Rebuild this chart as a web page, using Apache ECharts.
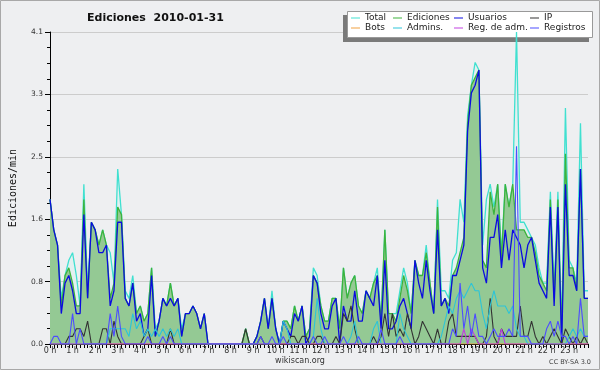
<!DOCTYPE html>
<html><head><meta charset="utf-8">
<script src="https://cdn.jsdelivr.net/npm/echarts@6/dist/echarts.min.js"></script>
<style>html,body{margin:0;padding:0;background:#eeeff1}#c{width:600px;height:370px}</style>
</head><body><div id="c"></div>
<script>
// hour tick labels
const hourLabels = ['0 h','1 h','2 h','3 h','4 h','5 h','6 h','7 h','8 h','9 h','10 h','11 h','12 h','13 h','14 h','15 h','16 h','17 h','18 h','19 h','20 h','21 h','22 h','23 h'];
// categories: 10-minute bins
const categories = [];
for (let h = 0; h < 24; h++) for (let m = 0; m < 60; m += 10) categories.push(h + ':' + (m < 10 ? '0' : '') + m);
const seriesNames = ['Total','Ediciones','Usuarios','IP','Bots','Admins.','Reg. de adm.','Registros'];

const total = [
1.9,1.5,1.3,0.6,0.9,1.1, 1.2,0.9,0.5,2.1,0.7,1.6, 1.5,1.3,1.5,1.3,1.2,0.8, 2.3,1.7,0.7,0.6,0.9,0.4,
0.5,0.3,0.4,1.0,0.2,0.3, 0.6,0.5,0.8,0.5,0.6,0.2, 0.4,0.4,0.5,0.4,0.2,0.4, 0,0,0,0,0,0,
0,0,0,0,0.2,0, 0,0.1,0.3,0.6,0.2,0.7, 0.2,0,0.3,0.3,0.2,0.5, 0.3,0.5,0.1,0.2,1.0,0.9,
0.5,0.3,0.3,0.6,0.6,0.2, 1.0,0.6,0.8,0.9,0.5,0.4, 0.7,0.6,0.8,1.0,0.3,1.5, 0.4,0.4,0.4,0.7,1.0,0.8,
0.4,1.1,0.9,0.9,1.3,0.8, 0.4,1.9,0.7,0.7,0.6,1.1, 1.2,1.9,1.6,3.0,3.4,3.7, 3.6,1.3,1.9,2.1,1.8,2.1,
1.2,2.1,1.8,2.1,4.1,1.6, 1.6,1.5,1.4,1.3,1.0,0.8, 0.8,2.0,0.7,2.0,0.2,3.1, 1.1,1.0,0.8,2.9,0.7,0.7];
const ediciones = [
1.9,1.5,1.3,0.5,0.9,1.0, 0.8,0.5,0.5,1.9,0.6,1.6, 1.5,1.3,1.5,1.3,0.6,0.8, 1.8,1.7,0.6,0.5,0.8,0.4,
0.5,0.3,0.4,1.0,0.1,0.3, 0.6,0.5,0.8,0.5,0.6,0.1, 0.4,0.4,0.5,0.4,0.2,0.4, 0,0,0,0,0,0,
0,0,0,0,0.2,0, 0,0.1,0.3,0.6,0.2,0.6, 0.2,0,0.3,0.3,0.2,0.5, 0.3,0.5,0.1,0.2,0.9,0.8,
0.5,0.3,0.3,0.6,0.6,0.2, 1.0,0.6,0.8,0.9,0.5,0.4, 0.7,0.6,0.8,0.9,0.3,1.5, 0.4,0.4,0.3,0.6,0.9,0.7,
0.4,1.1,0.9,0.9,1.2,0.8, 0.4,1.8,0.5,0.6,0.5,0.9, 1.0,1.2,1.4,2.9,3.4,3.5, 3.6,1.1,1.0,2.0,1.7,2.1,
1.1,2.1,1.8,2.1,1.5,1.5, 1.5,1.4,1.4,1.2,0.9,0.8, 0.7,1.9,0.6,1.9,0.1,2.5, 1.0,1.0,0.7,2.3,0.6,0.6];
const usuarios = [
1.9,1.5,1.3,0.4,0.8,0.9, 0.7,0.4,0.4,1.7,0.6,1.6, 1.5,1.2,1.2,1.3,0.5,0.7, 1.6,1.6,0.6,0.5,0.8,0.3,
0.4,0.1,0.2,0.9,0.1,0.3, 0.6,0.5,0.6,0.5,0.6,0.1, 0.4,0.4,0.5,0.4,0.2,0.4, 0,0,0,0,0,0,
0,0,0,0,0,0, 0,0.1,0.3,0.6,0.2,0.6, 0.2,0,0.3,0.2,0.1,0.4, 0.3,0.5,0,0.1,0.9,0.8,
0.4,0.2,0.2,0.5,0.6,0, 0.5,0.3,0.3,0.7,0.3,0.3, 0.7,0.6,0.5,0.9,0.2,1.1, 0.2,0.2,0.3,0.5,0.6,0.4,
0.2,1.1,0.8,0.6,1.1,0.7, 0.4,1.5,0.5,0.6,0.4,0.9, 0.9,1.1,1.3,2.8,3.3,3.4, 3.6,1.0,0.8,1.4,1.4,1.7,
1.0,1.5,1.1,1.5,1.4,1.3, 1.0,1.3,1.4,1.1,0.8,0.7, 0.6,1.8,0.5,1.8,0,2.1, 0.9,0.9,0.7,2.3,0.6,0.6];
const ip = [
0,0,0,0,0,0.1, 0.1,0.2,0.2,0.1,0.3,0, 0,0,0.2,0.2,0,0.3, 0.1,0,0,0,0,0,
0,0.1,0.2,0,0,0, 0,0,0.2,0,0,0, 0,0,0,0,0,0, 0,0,0,0,0,0,
0,0,0,0,0.2,0, 0,0,0.1,0,0,0, 0,0,0,0,0.1,0.1, 0,0.1,0.1,0,0,0.1,
0.1,0,0,0,0.1,0, 0.4,0.3,0.5,0.2,0,0, 0,0,0.1,0,0.1,0.4, 0.1,0.4,0.1,0.2,0.1,0.4,
0.2,0,0.1,0.3,0.2,0.1, 0,0.2,0,0,0.3,0.4, 0.1,0.1,0.1,0.1,0.1,0.1, 0,0,0.1,0.6,0.1,0,
0.2,0.1,0.1,0.1,0.1,0.5, 0.1,0.1,0.3,0.1,0,0.1, 0,0.1,0.2,0.1,0,0.2, 0.1,0,0.1,0,0.1,0];
const bots = [
0,0,0,0,0,0, 0,0,0,0,0,0, 0,0,0,0,0,0, 0,0,0,0,0,0,
0,0,0,0,0,0, 0,0,0,0,0,0, 0,0,0,0,0,0, 0,0,0,0,0,0,
0,0,0,0,0,0, 0,0,0,0,0,0, 0,0,0,0,0,0, 0,0,0,0,0,0,
0,0,0,0,0,0, 0,0,0,0,0,0, 0,0,0,0,0,0, 0,0,0,0,0,0,
0,0,0,0,0,0, 0,0,0,0,0,0, 0,0,0,0,0,0, 0,0,0,0,0,0,
0,0,0,0,0,0, 0,0,0,0,0,0, 0,0,0,0,0,0, 0,0,0,0,0,0];
const admins = [
0,0,0,0,0,0, 0,0,0,0,0,0, 0,0,0,0,0.2,0.2, 0.2,0.2,0.2,0.1,0.4,0.2,
0.3,0.1,0.2,0.1,0.2,0.1, 0.2,0.1,0.2,0.1,0.2,0, 0,0,0,0,0,0, 0,0,0,0,0,0,
0,0,0,0,0,0, 0,0,0,0,0,0, 0,0,0.3,0.2,0,0, 0,0,0,0,0.1,0.6,
0.2,0,0,0,0,0, 0,0,0.1,0.3,0,0, 0,0,0.2,0.3,0,0, 0,0,0,0.4,0.2,0.1,
0,0,0,0,0,0, 0,0,0.1,0.3,0.5,0.4, 0.6,0.7,0.6,0.7,0.8,0.7, 0.7,0.4,0.2,0.5,0.7,0.5,
0.5,0.5,0.4,0.5,0.2,0.1, 0.1,0,0,0,0,0, 0,0,0,0,0,0, 0.1,0.2,0.1,0.2,0.1,0.1];
const regAdm = [
0,0,0,0,0,0, 0,0,0,0,0,0, 0,0,0,0,0,0, 0,0,0,0,0,0,
0,0,0,0,0,0, 0,0,0,0,0,0, 0,0,0,0,0,0, 0,0,0,0,0,0,
0,0,0,0,0,0, 0,0,0,0,0,0, 0,0,0,0,0,0, 0,0,0,0,0,0,
0,0,0,0,0,0, 0,0,0,0,0,0, 0,0,0,0,0,0, 0,0,0,0,0,0,
0,0,0,0,0,0, 0,0,0,0,0,0, 0,0,0.2,0,0.2,0.1, 0,0,0,0,0,0,
0.2,0,0,0,0,0, 0,0,0,0,0,0, 0,0,0,0,0,0, 0,0,0,0,0,0];
const registros = [
0,0.1,0.1,0,0,0, 0.4,0,0.2,0,0,0, 0,0,0,0,0.4,0.1, 0.5,0.1,0,0,0,0,
0,0,0.1,0,0,0, 0.1,0,0.1,0,0,0, 0,0,0,0,0,0, 0,0,0,0,0,0,
0,0,0,0,0,0, 0,0,0.1,0,0,0.1, 0,0,0.1,0,0,0, 0,0,0,0,0.1,0,
0,0.1,0,0,0,0, 0.1,0,0,0,0.1,0, 0,0,0,0,0.2,0, 0,0,0,0.1,0,0,
0,0,0,0,0,0, 0,0,0,0,0,0.2, 0.1,0.8,0.2,0.5,0.1,0.4, 0.1,0.1,0,0.1,0.2,0.1,
0.1,0.1,0.2,0.1,2.6,0.1, 0.1,0.1,0,0,0,0, 0.2,0.3,0.1,0.3,0.1,0.1, 0,0.1,0,0.6,0.1,0.1];

const colors = ['#40e0d0','#3cb33c','#0b0be0','#333333','#f0a040','#2cc4d8','#c040e0','#4d4dff'];
const dataList = [total, ediciones, usuarios, ip, bots, admins, regAdm, registros];

const FONT = 'DejaVu Sans';
const chart = echarts.init(document.getElementById('c'), null, {renderer: 'canvas'});

const series = seriesNames.map((n, k) => {
  const s = {
    name: n, type: 'line', data: dataList[k], symbol: 'none', animation: false,
    color: colors[k], lineStyle: {color: colors[k], width: k < 3 ? 1.3 : 1.1},
    itemStyle: {color: colors[k]}, z: 2 + k
  };
  if (k === 0) s.areaStyle = {color: '#e3f0f0', opacity: 1};
  if (k === 1) s.areaStyle = {color: '#94c994', opacity: 1};
  return s;
});

function legendCol(names, left) {
  return {
    data: names, left: left, top: 13, orient: 'vertical', padding: 0, itemGap: 0,
    itemWidth: 9, itemHeight: 1, icon: 'rect', selectedMode: false,
    textStyle: {fontFamily: FONT, fontSize: 9, color: '#222', lineHeight: 10, padding: [0,0,0,0]}
  };
}

chart.setOption({
  animation: false,
  backgroundColor: '#eeeff1',
  title: {text: 'Ediciones  2010-01-31', left: 82, top: 8,
    textStyle: {fontFamily: FONT, fontSize: 11, fontWeight: 'bold', color: '#111'}},
  legend: [
    legendCol([seriesNames[0], seriesNames[4]], 351),
    legendCol([seriesNames[1], seriesNames[5]], 393),
    legendCol([seriesNames[2], seriesNames[6]], 454),
    legendCol([seriesNames[3], seriesNames[7]], 530)
  ],
  grid: {left: 46, right: 12, top: 32, bottom: 26},
  xAxis: {
    type: 'category', data: categories, boundaryGap: false,
    axisLine: {lineStyle: {color: '#000', width: 1}},
    axisTick: {interval: 0, length: 4, lineStyle: {color: '#000'}},
    axisLabel: {interval: 0, fontFamily: FONT, fontSize: 8, color: '#333', margin: 3,
      formatter: (v, i) => (i % 6 === 0 ? hourLabels[i / 6] : '')},
    splitLine: {show: false}
  },
  yAxis: {
    type: 'value', min: 0, max: 4.1, interval: 0.82,
    name: 'Ediciones/min', nameLocation: 'middle', nameGap: 32, nameRotate: 90,
    nameTextStyle: {fontFamily: 'DejaVu Sans Mono', fontSize: 10, color: '#111'},
    axisLine: {show: true, lineStyle: {color: '#000'}},
    axisTick: {show: true, length: 5, lineStyle: {color: '#000'}},
    minorTick: {show: true, splitNumber: 4, length: 3, lineStyle: {color: '#000'}},
    axisLabel: {fontFamily: FONT, fontSize: 7.5, color: '#333', margin: 7,
      formatter: v => v.toFixed(1)},
    splitLine: {lineStyle: {color: '#cccccc', width: 1}}
  },
  graphic: [
    {type: 'rect', shape: {x: 0.5, y: 0.5, width: 599, height: 369}, style: {fill: 'none', stroke: '#a8a8a8', lineWidth: 1}, z: 0},
    {type: 'rect', shape: {x: 343, y: 15, width: 246, height: 27}, style: {fill: '#7a7a7a'}, z: 1},
    {type: 'rect', shape: {x: 347.5, y: 11.5, width: 245, height: 26}, style: {fill: '#ffffff', stroke: '#999', lineWidth: 1}, z: 2},
    {type: 'text', x: 300, y: 361, style: {text: 'wikiscan.org', fontFamily: FONT, fontSize: 8, fill: '#333', textAlign: 'center', textVerticalAlign: 'middle'}},
    {type: 'text', x: 591, y: 362, style: {text: 'CC BY-SA 3.0', fontFamily: FONT, fontSize: 6.5, fill: '#444', textAlign: 'right', textVerticalAlign: 'middle'}}
  ],
  series: series
});
</script></body></html>
